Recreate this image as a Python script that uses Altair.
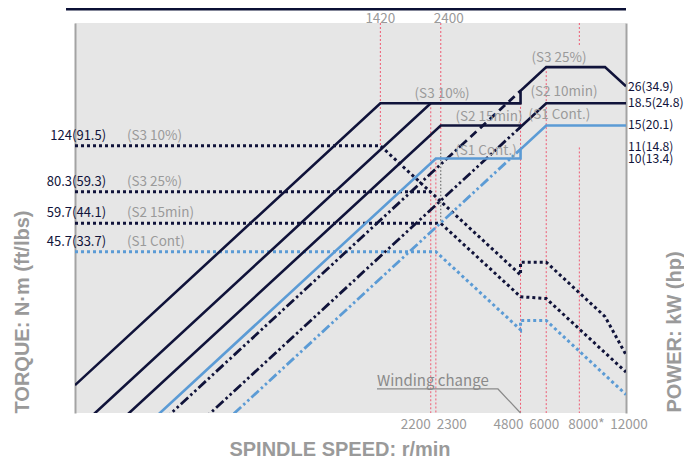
import altair as alt
import pandas as pd

NAVY = "#10133a"
BLUE = "#5b9bd5"
RED = "#ef5b73"
GRAY_TXT = "#9a9a9a"
AXIS_GRAY = "#a3a3a3"
BG = "#e6e6e6"
FONT = "Noto Sans CJK JP, Roboto, sans-serif"
TITLE_FONT = "Liberation Sans, Arial, sans-serif"

# ---------------- data (speed in r/min, power in kW) ----------------
# Torque is plotted on the same log axis as N·m / 10
TORQUE_FACTOR = 0.1

# power curves (solid)
p_s3_10_speed = [100, 1420, 4800, 4800, 6000, 10000, 12000]
p_s3_10_kw = [1.30, 18.5, 18.5, 20.8, 26, 26, 21.7]
p_s3_25_speed = [100, 2200, 4800]
p_s3_25_kw = [0.84, 18.5, 18.5]
p_s2_speed = [100, 2400, 4800, 4800, 6000, 12000]
p_s2_kw = [0.625, 15, 15, 14.8, 18.5, 18.5]
p_s1_speed = [100, 2300, 4800, 4800, 6000, 12000]
p_s1_kw = [0.478, 11, 11, 12.0, 15, 15]

# high-speed winding below change-over (dash-dot-dot / dashed)
hw_s3_25_speed = [100, 2860]
hw_s3_25_kw = [0.433, 12.4]
hw_s3_25b_speed = [2860, 4800]
hw_s3_25b_kw = [12.4, 20.8]
hw_s2_speed = [100, 4800]
hw_s2_kw = [0.308, 14.8]
hw_s1_speed = [100, 4800]
hw_s1_kw = [0.25, 12.0]

# torque curves (dotted), N·m
t_s3_10_speed = [100, 1420, 4800, 4800, 6000, 10000, 12000]
t_s3_10_nm = [124, 124, 36.7, 41.4, 41.4, 24.8, 17.3]
t_s3_25_speed = [100, 2200]
t_s3_25_nm = [80.3, 80.3]
t_s2_speed = [100, 2400, 4800, 6000, 12000]
t_s2_nm = [59.7, 59.7, 29.9, 29.4, 14.7]
t_s1_speed = [100, 2300, 4800, 4800, 6000, 12000]
t_s1_nm = [45.7, 45.7, 21.9, 23.9, 23.9, 11.9]

# reference speed lines (red dotted): speed, from, to (kW axis)
ref_speed = [1420, 2400, 2200, 2300, 4800, 6000, 8000, 8000]
ref_from = [39.4, 39.4, 18.5, 11.0, 20.8, 26.0, 39.4, 12.2]
ref_to = [12.4, 12.0, 1.0, 1.0, 1.0, 1.0, 32.0, 1.0]
ref2400_gray_from = [12.0]
ref2400_gray_to = [5.97]

# labels
left_value_text = ["124(91.5)", "80.3(59.3)", "59.7(44.1)", "45.7(33.7)"]
left_duty_text = ["(S3 10%)", "(S3 25%)", "(S2 15min)", "(S1 Cont)"]
left_torque = [124, 80.3, 59.7, 45.7]

right_text = ["26(34.9)", "18.5(24.8)", "15(20.1)", "11(14.8)", "10(13.4)"]
right_pos = [21.6, 18.6, 15.1, 12.25, 10.95]

duty_text = ["(S3 25%)", "(S3 10%)", "(S2 10min)", "(S2 15min)", "(S1 Cont.)", "(S1 Cont.)"]
duty_speed = [6700, 2428, 7000, 3650, 6730, 3556]
duty_kw = [28.3, 20.2, 20.6, 16.3, 16.5, 11.8]

top_tick_speed = [1420, 2400]
top_tick_text = ["1420", "2400"]
bottom_tick_speed = [2200, 2300, 4800, 6000, 8000, 12000]
bottom_tick_text = ["2200", "2300", "4800", "6000", "8000*", "12000"]

winding_speed = [1379, 3945, 4800]
winding_kw = [1.254, 1.254, 1.0]

# ---------------- chart ----------------
XS = alt.Scale(type="log", domain=[100, 12000], nice=False)
YS = alt.Scale(type="log", domain=[1, 39.4], nice=False)
X = alt.X("n:Q", scale=XS, axis=None)
Y = alt.Y("v:Q", scale=YS, axis=None)


def series(name, speeds, vals, factor=1.0):
    return pd.DataFrame({"curve": name, "n": speeds,
                         "v": [x * factor for x in vals],
                         "i": list(range(len(speeds)))})


def lines(df, color, dash=None, width=2.6, cap="butt"):
    kw = dict(color=color, strokeWidth=width, strokeCap=cap, clip=True,
              strokeJoin="miter")
    if dash:
        kw["strokeDash"] = dash
    return alt.Chart(df).mark_line(**kw).encode(
        x=X, y=Y, detail="curve:N", order=alt.Order("i:Q"))


navy_solid = pd.concat([series("s3_10", p_s3_10_speed, p_s3_10_kw),
                        series("s3_25", p_s3_25_speed, p_s3_25_kw),
                        series("s2", p_s2_speed, p_s2_kw)])
blue_solid = series("s1", p_s1_speed, p_s1_kw)
navy_dd = pd.concat([series("h3", hw_s3_25_speed, hw_s3_25_kw),
                     series("h2", hw_s2_speed, hw_s2_kw)])
navy_dash = series("h3b", hw_s3_25b_speed, hw_s3_25b_kw)
blue_dd = series("h1", hw_s1_speed, hw_s1_kw)
navy_dot = pd.concat([series("t3", t_s3_10_speed, t_s3_10_nm, TORQUE_FACTOR),
                      series("t25", t_s3_25_speed, t_s3_25_nm, TORQUE_FACTOR),
                      series("t2", t_s2_speed, t_s2_nm, TORQUE_FACTOR)])
blue_dot = series("t1", t_s1_speed, t_s1_nm, TORQUE_FACTOR)

TITLE_STYLE = dict(titleFont=TITLE_FONT, titleFontSize=20, titleFontWeight="bold",
                   titleColor=GRAY_TXT)
AXIS_LINE = dict(domain=True, domainColor=AXIS_GRAY, domainWidth=2,
                 ticks=False, labels=False, grid=False)

frame_df = pd.DataFrame({"n": [100, 12000], "v": [1, 39.4]})
left_axis = alt.Chart(frame_df).mark_point(opacity=0).encode(
    x=alt.X("n:Q", scale=XS, axis=alt.Axis(orient="bottom", title=None, **AXIS_LINE)),
    y=alt.Y("v:Q", scale=YS, axis=alt.Axis(
        orient="left", title="TORQUE: N·m (ft/lbs)", titleX=-53, titleY=390,
        titleAngle=270, titleAlign="left", titleBaseline="middle",
        **AXIS_LINE, **TITLE_STYLE)),
)
right_axis = alt.Chart(frame_df).mark_point(opacity=0).encode(
    x=X,
    y=alt.Y("v:Q", scale=YS, axis=alt.Axis(
        orient="right", title="POWER: kW (hp)", titleX=48, titleY=389,
        titleAngle=270, titleAlign="left", titleBaseline="middle",
        **AXIS_LINE, **TITLE_STYLE)),
)
x_title = alt.Chart(pd.DataFrame({"t": ["SPINDLE SPEED: r/min"]})).mark_text(
    font=TITLE_FONT, fontSize=20, fontWeight="bold", color=GRAY_TXT,
    align="center", baseline="middle").encode(
    x=alt.value(265), y=alt.value(427), text="t:N")

ref_df = pd.DataFrame({"n": ref_speed, "v": ref_from, "v2": ref_to})
ref_rules = alt.Chart(ref_df).mark_rule(color=RED, strokeWidth=1,
                                        strokeDash=[2, 2]).encode(
    x=X, y=Y, y2="v2:Q")
gray_df = pd.DataFrame({"n": [2400], "v": ref2400_gray_from, "v2": ref2400_gray_to})
gray_rule = alt.Chart(gray_df).mark_rule(color="#555555", strokeWidth=1,
                                         strokeDash=[1.5, 2]).encode(
    x=X, y=Y, y2="v2:Q")

wind_df = pd.DataFrame({"n": winding_speed, "v": winding_kw,
                        "i": [0, 1, 2], "curve": "w"})
wind_line = alt.Chart(wind_df).mark_line(color="#8a8a8a", strokeWidth=1.2).encode(
    x=X, y=Y, order="i:Q")
wind_text = alt.Chart(pd.DataFrame({"n": [winding_speed[0]], "v": [winding_kw[0]],
                                    "t": ["Winding change"]})).mark_text(
    align="left", baseline="middle", dy=-8, font=FONT, fontSize=15,
    color="#8a8a8a").encode(x=X, y=Y, text="t:N")

left_df = pd.DataFrame({"val": left_value_text, "duty": left_duty_text,
                        "v": [t * TORQUE_FACTOR for t in left_torque],
                        "n1": 131, "n2": 157})
left_vals = alt.Chart(left_df).mark_text(
    align="right", baseline="middle", dy=-10, font=FONT, fontSize=13,
    color=NAVY).encode(
    x=alt.X("n1:Q", scale=XS, axis=None), y=Y, text="val:N")
left_duty = alt.Chart(left_df).mark_text(
    align="left", baseline="middle", dy=-10, font=FONT, fontSize=13.5,
    color=GRAY_TXT).encode(
    x=alt.X("n2:Q", scale=XS, axis=None), y=Y, text="duty:N")

duty_df = pd.DataFrame({"t": duty_text, "n": duty_speed, "v": duty_kw})
duty_lbl = alt.Chart(duty_df).mark_text(
    align="center", baseline="middle", font=FONT, fontSize=13.5,
    color=GRAY_TXT).encode(x=X, y=Y, text="t:N")

right_df = pd.DataFrame({"t": right_text, "v": right_pos, "n": 12000})
right_lbl = alt.Chart(right_df).mark_text(
    align="left", baseline="middle", dx=2, font=FONT, fontSize=12.2,
    color=NAVY).encode(x=X, y=Y, text="t:N")

# tick labels: alignment / nudge per label (style only)
TOP_STYLE = {"1420": ("center", 0), "2400": ("center", 8)}
BOT_STYLE = {"2200": ("right", 0), "2300": ("left", 1), "4800": ("right", 3),
             "6000": ("center", -2), "8000*": ("left", -11), "12000": ("center", 3)}
tick_layers = []
for t, n in zip(top_tick_text, top_tick_speed):
    al, dx = TOP_STYLE[t]
    tick_layers.append(alt.Chart(pd.DataFrame({"t": [t], "n": [n]})).mark_text(
        align=al, dx=dx, baseline="middle", font=FONT, fontSize=13.5,
        color=GRAY_TXT).encode(x=X, y=alt.value(-4), text="t:N"))
for t, n in zip(bottom_tick_text, bottom_tick_speed):
    al, dx = BOT_STYLE[t]
    tick_layers.append(alt.Chart(pd.DataFrame({"t": [t], "n": [n]})).mark_text(
        align=al, dx=dx, baseline="middle", font=FONT, fontSize=13.5,
        color=GRAY_TXT).encode(x=X, y=alt.value(402), text="t:N"))

band_df = pd.DataFrame({"n": [92.5], "n2": [12000]})
band = alt.Chart(band_df).mark_rect(color="#0b1035").encode(
    x=X, x2="n2:Q", y=alt.value(-15), y2=alt.value(-12.5))

chart = alt.layer(
    left_axis,
    right_axis,
    ref_rules,
    gray_rule,
    wind_line,
    lines(navy_dot, NAVY, [3, 3], 3),
    lines(blue_dot, BLUE, [3, 3], 3),
    lines(navy_dd, NAVY, [10, 3, 2.5, 3, 2.5, 3], 2.8),
    lines(navy_dash, NAVY, [8, 5], 2.8),
    lines(blue_dd, BLUE, [10, 3, 2.5, 3, 2.5, 3], 2.8),
    lines(blue_solid, BLUE, None, 2.6),
    lines(navy_solid, NAVY, None, 2.6),
    wind_text, left_vals, left_duty, duty_lbl, right_lbl,
    *tick_layers, band, x_title,
).resolve_axis(y="independent").properties(
    width=551, height=390,
    autosize=alt.AutoSizeParams(type="none"),
    padding={"left": 67, "top": 15, "right": 58, "bottom": 47},
).configure_view(fill=BG, stroke=None)

chart.save("out.html", embed_options={"renderer": "svg", "actions": False})
